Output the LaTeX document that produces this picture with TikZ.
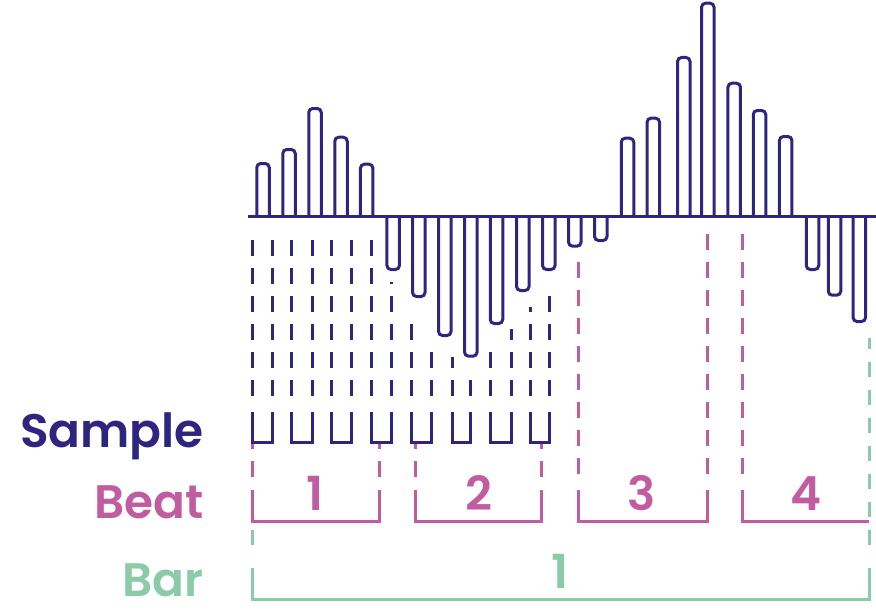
\documentclass[tikz,border=0pt]{standalone}
\usepackage{fontspec}
\IfFontExistsTF{Poppins SemiBold}{\newfontfamily\labfont{Poppins SemiBold}}{%
  \IfFontExistsTF{Poppins Medium}{\newfontfamily\labfont{Poppins Medium}[FakeBold=1.2]}{%
    \newfontfamily\labfont{Poppins}[FakeBold=2]}}
\definecolor{smp}{HTML}{2E2580}
\definecolor{bt}{HTML}{C25CA0}
\definecolor{br}{HTML}{8CCBA8}
\tikzset{
  barshape/.style={draw=smp, line width=3pt, rounded corners=4pt},
  sdash/.style={draw=smp, line width=3pt, dash pattern=on 16pt off 12pt},
  bdash/.style={draw=bt, line width=3pt, dash pattern=on 16pt off 12pt},
  gdash/.style={draw=br, line width=3pt, dash pattern=on 15pt off 13pt},
  ushape/.style={draw=smp, line width=3pt},
  beatbr/.style={draw=bt, line width=3pt},
  barbr/.style={draw=br, line width=3pt},
  lab/.style={inner sep=0pt, font=\labfont\fontsize{47}{47}\selectfont},
}
\begin{document}
\begin{tikzpicture}[x=1pt, y=-1pt]
\useasboundingbox (0,0) rectangle (876,610);
% baseline
\coordinate (bl0) at (248,216.5);
\coordinate (bl1) at (876,216.5);
\draw[draw=smp, line width=3pt] (bl0) -- (bl1);
% upward bars: center / outer top
\foreach \c/\t in {263/162, 289/148, 315/107, 341/135.7, 366.7/162.7,
                   627.5/136.7, 653.3/116.7, 683.8/56, 707.8/1.7, 734.2/81.7, 759.5/109, 785.7/135}{
  \draw[barshape] (\c-6.25,216.5) -- (\c-6.25,\t+1.5) -- (\c+6.25,\t+1.5) -- (\c+6.25,216.5);
}
% downward bars: center / outer bottom
\foreach \c/\b in {393.2/271, 418.8/298, 444.8/337, 470.8/357.7, 496.5/325, 522.8/292, 548.8/271,
                   574.8/247.7, 600.8/242, 812.5/271, 834.5/296.7, 859.3/323}{
  \draw[barshape] (\c-6.25,216.5) -- (\c-6.25,\b-1.5) -- (\c+6.25,\b-1.5) -- (\c+6.25,216.5);
}
% sample dashed columns
\foreach \x/\s in {252.3/240, 272.3/240, 291.7/240, 312.3/240, 331.7/240, 351.7/240, 371/240,
                   391/282.5, 411/318, 431.7/345, 452.3/357.7, 470/372, 490.7/345, 511/329, 530/307.7, 549.3/290}{
  \begin{scope}
    \clip (\x-3,\s) rectangle (\x+3,400);
    \draw[sdash] (\x,240) -- (\x,396);
  \end{scope}
}
% sample U shapes
\foreach \a/\b in {252.3/272.3, 291.7/312.3, 331.7/351.7, 371/391, 411/431.7, 452.3/470, 490.7/511, 530/549.3}{
  \draw[ushape] (\a,412) -- (\a,442) -- (\b,442) -- (\b,412);
}
% beat dashed lines
\foreach \x in {252.3, 379.3, 415.7, 541.5}{
  \begin{scope}
    \clip (\x-3,444) rectangle (\x+3,480);
    \draw[bdash] (\x,433) -- (\x,478);
  \end{scope}
}
\begin{scope}
  \clip (575,260) rectangle (583,480);
  \draw[bdash] (578.8,234) -- (578.8,478);
\end{scope}
\draw[bdash] (707,234) -- (707,478);
\draw[bdash] (742.3,234) -- (742.3,478);
% beat brackets
\draw[beatbr] (252.3,490) |- (379.3,521) -- (379.3,490);
\draw[beatbr] (415.7,490) |- (541.5,521) -- (541.5,490);
\draw[beatbr] (578.8,490) |- (707,521) -- (707,490);
\draw[beatbr] (742.3,490) |- (869.3,521);
% bar dashed lines
\begin{scope}
  \clip (865,338) rectangle (873,560);
  \draw[gdash] (869.3,334) -- (869.3,546);
\end{scope}
\draw[gdash] (252.3,530) -- (252.3,545);
% bar bracket
\draw[barbr] (252.3,568) |- (869.3,599) -- (869.3,568);
% labels
\node[lab, text=smp, anchor=base east] (lsample) at (204,447) {Sample};
\node[lab, text=bt, anchor=base east] (lbeat) at (204,518) {Beat};
\node[lab, text=br, anchor=base east] (lbar) at (204,596) {Bar};
\node[lab, text=bt, anchor=base] (b1) at (315,510) {1};
\node[lab, text=bt, anchor=base] (b2) at (479,510) {2};
\node[lab, text=bt, anchor=base] (b3) at (642,510) {3};
\node[lab, text=bt, anchor=base] (b4) at (806,510) {4};
\node[lab, text=br, anchor=base] (bar1) at (560,588) {1};
\end{tikzpicture}
\end{document}
